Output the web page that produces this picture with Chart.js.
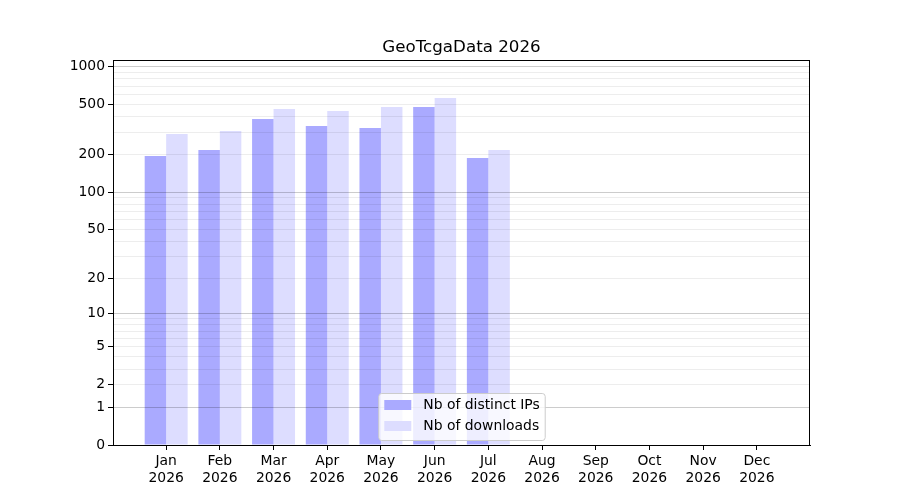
<!DOCTYPE html>
<html lang="en">
<head>
<meta charset="UTF-8">
<title>GeoTcgaData 2026</title>
<style>
    body { margin: 0; background: #fff; }
    #myChart { display: block; }
</style>
</head>
<body>
<canvas id="myChart" width="900" height="500"></canvas>

<script src="https://cdn.jsdelivr.net/npm/chart.js@4.4.1/dist/chart.umd.min.js"></script>
<script>
    // Data
    const months = ['Jan', 'Feb', 'Mar', 'Apr', 'May', 'Jun', 'Jul', 'Aug', 'Sep', 'Oct', 'Nov', 'Dec'];
    const year = '2026';
    const distinctIPs = [194, 217, 383, 337, 325, 477, 187];
    const downloads = [291, 307, 460, 443, 477, 562, 217];
    const yTickLabels = [0, 1, 2, 5, 10, 20, 50, 100, 200, 500, 1000];
    const yMajorLines = [1, 10, 100, 1000];
    const yMinorLines = [2, 3, 4, 5, 6, 7, 8, 9, 20, 30, 40, 50, 60, 70, 80, 90,
                         200, 300, 400, 500, 600, 700, 800, 900];

    const FONT = 'DejaVu Sans';
    const f = v => Math.log10(1 + v);

    // y axis: log10(1 + x) transform (0 stays at the bottom)
    class Log1pScale extends Chart.Scale {
        static id = 'log1p';
        static defaults = {};
        determineDataLimits() {
            this.min = this.options.min ?? 0;
            this.max = this.options.max;
        }
        buildTicks() {
            const vals = [...new Set([0, ...yTickLabels, ...yMinorLines])].sort((a, b) => a - b);
            return vals.map(v => ({ value: v }));
        }
        configure() {
            super.configure();
            this._fStart = f(this.min);
            this._fRange = f(this.max) - this._fStart;
        }
        getLabelForValue(v) { return String(v); }
        getPixelForValue(v) {
            return this.getPixelForDecimal((f(v) - this._fStart) / this._fRange);
        }
        getValueForPixel(p) {
            return Math.pow(10, this._fStart + this.getDecimalForPixel(p) * this._fRange) - 1;
        }
    }

    // x axis: category scale with a bit of extra room at both ends
    class PadCategoryScale extends Chart.CategoryScale {
        static id = 'padcategory';
        buildTicks() {
            const ticks = super.buildTicks();
            const pad = this.options.extraPad || 0;
            this._startValue -= pad;
            this._valueRange += 2 * pad;
            return ticks;
        }
    }

    Chart.register(Log1pScale, PadCategoryScale);

    // title, frame and legend drawn like the original
    const decorations = {
        id: 'decorations',
        afterDraw(chart) {
            const ctx = chart.ctx;
            const a = chart.chartArea;
            ctx.save();
            ctx.strokeStyle = '#000';
            ctx.lineWidth = 1;
            ctx.strokeRect(Math.round(a.left) + 0.5, Math.round(a.top) + 0.5,
                           Math.round(a.right - a.left) - 1, Math.round(a.bottom - a.top));

            ctx.fillStyle = '#000';
            ctx.font = '16.7px "' + FONT + '"';
            ctx.textAlign = 'center';
            ctx.textBaseline = 'alphabetic';
            ctx.fillText('GeoTcgaData 2026', (a.left + a.right) / 2, 52);

            // legend, lower center
            const ds = chart.data.datasets;
            ctx.font = '13.9px "' + FONT + '"';
            let tw = 0;
            ds.forEach(d => { tw = Math.max(tw, ctx.measureText(d.label).width); });
            const w = 6 + 27 + 12 + tw + 5;
            const h = 47;
            const x0 = (a.left + a.right) / 2 - w / 2;
            const y0 = a.bottom - 5 - h;
            ctx.beginPath();
            ctx.roundRect(x0 + 0.5, y0 + 0.5, w, h, 3);
            ctx.fillStyle = 'rgba(255,255,255,0.8)';
            ctx.fill();
            ctx.strokeStyle = '#cccccc';
            ctx.stroke();
            ctx.textAlign = 'left';
            ctx.textBaseline = 'middle';
            ds.forEach((d, i) => {
                const cy = y0 + 12 + i * 21;
                ctx.fillStyle = d.backgroundColor;
                ctx.fillRect(x0 + 6, cy - 5, 27, 10);
                ctx.fillStyle = '#000';
                ctx.fillText(d.label, x0 + 45, cy);
            });
            ctx.restore();
        }
    };

    const ctx = document.getElementById('myChart').getContext('2d');
    new Chart(ctx, {
        type: 'bar',
        data: {
            labels: months.map(m => [m, year]),
            datasets: [{
                label: 'Nb of distinct IPs',
                backgroundColor: '#aaaaff',
                data: distinctIPs
            }, {
                label: 'Nb of downloads',
                backgroundColor: '#ddddff',
                data: downloads
            }]
        },
        options: {
            responsive: false,
            animation: false,
            layout: { padding: { left: 53, right: 90, top: 60, bottom: 0 } },
            datasets: {
                bar: { categoryPercentage: 0.8, barPercentage: 1.0 }
            },
            scales: {
                x: {
                    type: 'padcategory',
                    offset: true,
                    extraPad: 0.49,
                    grid: {
                        offset: false,
                        drawOnChartArea: false,
                        tickLength: 5,
                        tickColor: '#000'
                    },
                    border: { color: '#000' },
                    ticks: {
                        color: '#000',
                        padding: 3,
                        maxRotation: 0,
                        autoSkip: false,
                        font: { family: FONT, size: 13.9, lineHeight: 1.2 }
                    },
                    afterFit: s => { s.height = 55; }
                },
                y: {
                    type: 'log1p',
                    min: 0,
                    max: 1126,
                    grid: {
                        z: 1,
                        tickLength: 5,
                        color: c => {
                            const v = c.tick ? c.tick.value : null;
                            if (yMajorLines.includes(v)) return 'rgba(0,0,0,0.2)';
                            if (yMinorLines.includes(v)) return 'rgba(0,0,0,0.07)';
                            return 'rgba(0,0,0,0)';
                        },
                        tickColor: c => (c.tick && yTickLabels.includes(c.tick.value)) ? '#000' : 'rgba(0,0,0,0)'
                    },
                    border: { display: false },
                    ticks: {
                        color: '#000',
                        padding: 3,
                        autoSkip: false,
                        font: { family: FONT, size: 13.9 },
                        callback: v => yTickLabels.includes(v) ? String(v) : ''
                    },
                    afterFit: s => { s.width = 60; }
                }
            },
            plugins: {
                legend: { display: false },
                title: { display: false },
                tooltip: { enabled: false }
            }
        },
        plugins: [decorations]
    });
</script>
</body>
</html>
